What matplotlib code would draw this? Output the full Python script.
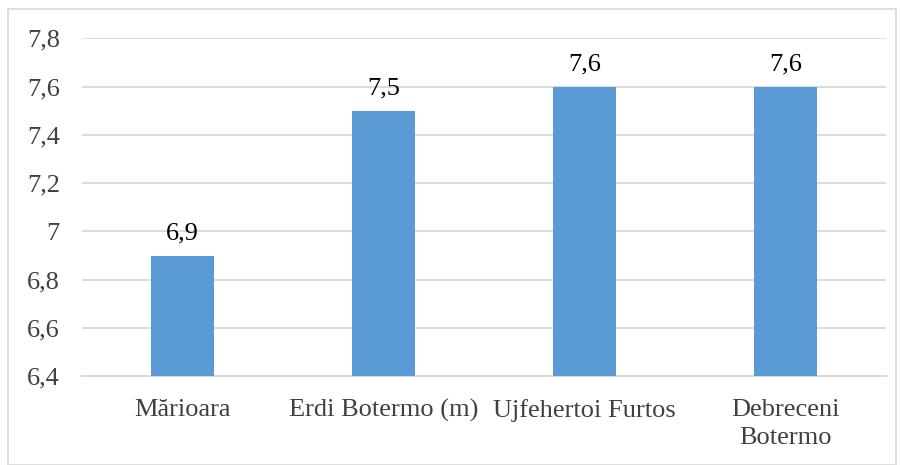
import numpy as np
import matplotlib
matplotlib.use("Agg")
from matplotlib import pyplot as plt
from matplotlib.patches import Rectangle

# data
soiuri = ["Mărioara", "Erdi Botermo (m)", "Ujfehertoi Furtos", "Debreceni\nBotermo"]
valori = [6.9, 7.5, 7.6, 7.6]
yticks = [6.4, 6.6, 6.8, 7.0, 7.2, 7.4, 7.6, 7.8]

plt.rcParams['font.family'] = ['Liberation Serif', 'DejaVu Serif']

def virgula(v):
    return ("%g" % v).replace('.', ',')

fig = plt.figure(figsize=(9.03, 4.65), dpi=100)
ax = fig.add_axes([82/903, 1 - 376.4/465, 804/903, (376.4 - 38.3)/465])

x = np.arange(len(soiuri))
bars = ax.bar(x, valori, width=0.31, color='#5B9BD5', zorder=3)

for xi, v in zip(x, valori):
    ax.annotate(virgula(v), (xi, v), xytext=(0, 8), textcoords='offset points',
                ha='center', va='bottom', fontsize=19, color='black')

ax.set_xlim(-0.5, len(soiuri) - 0.5)
ax.set_ylim(6.4, 7.8)
ax.set_yticks(yticks)
ax.set_yticklabels([virgula(v) for v in yticks])
ax.set_xticks(x)
ax.set_xticklabels(soiuri, linespacing=1.35)

ax.grid(axis='y', color='#D9D9D9', linewidth=1.3, zorder=0)
for s in ['top', 'right', 'left']:
    ax.spines[s].set_visible(False)
ax.spines['bottom'].set_color('#D9D9D9')
ax.spines['bottom'].set_linewidth(1.5)

ax.tick_params(axis='both', length=0, labelsize=19, labelcolor='#404040')
ax.tick_params(axis='y', pad=16)
ax.tick_params(axis='x', pad=16)

# chart border
fig.patches.append(Rectangle((8/903, 0), 888/903, 1 - 9/465, transform=fig.transFigure,
                             fill=False, edgecolor='#D9D9D9', linewidth=1.2))

fig.savefig("out.png", dpi=100)
